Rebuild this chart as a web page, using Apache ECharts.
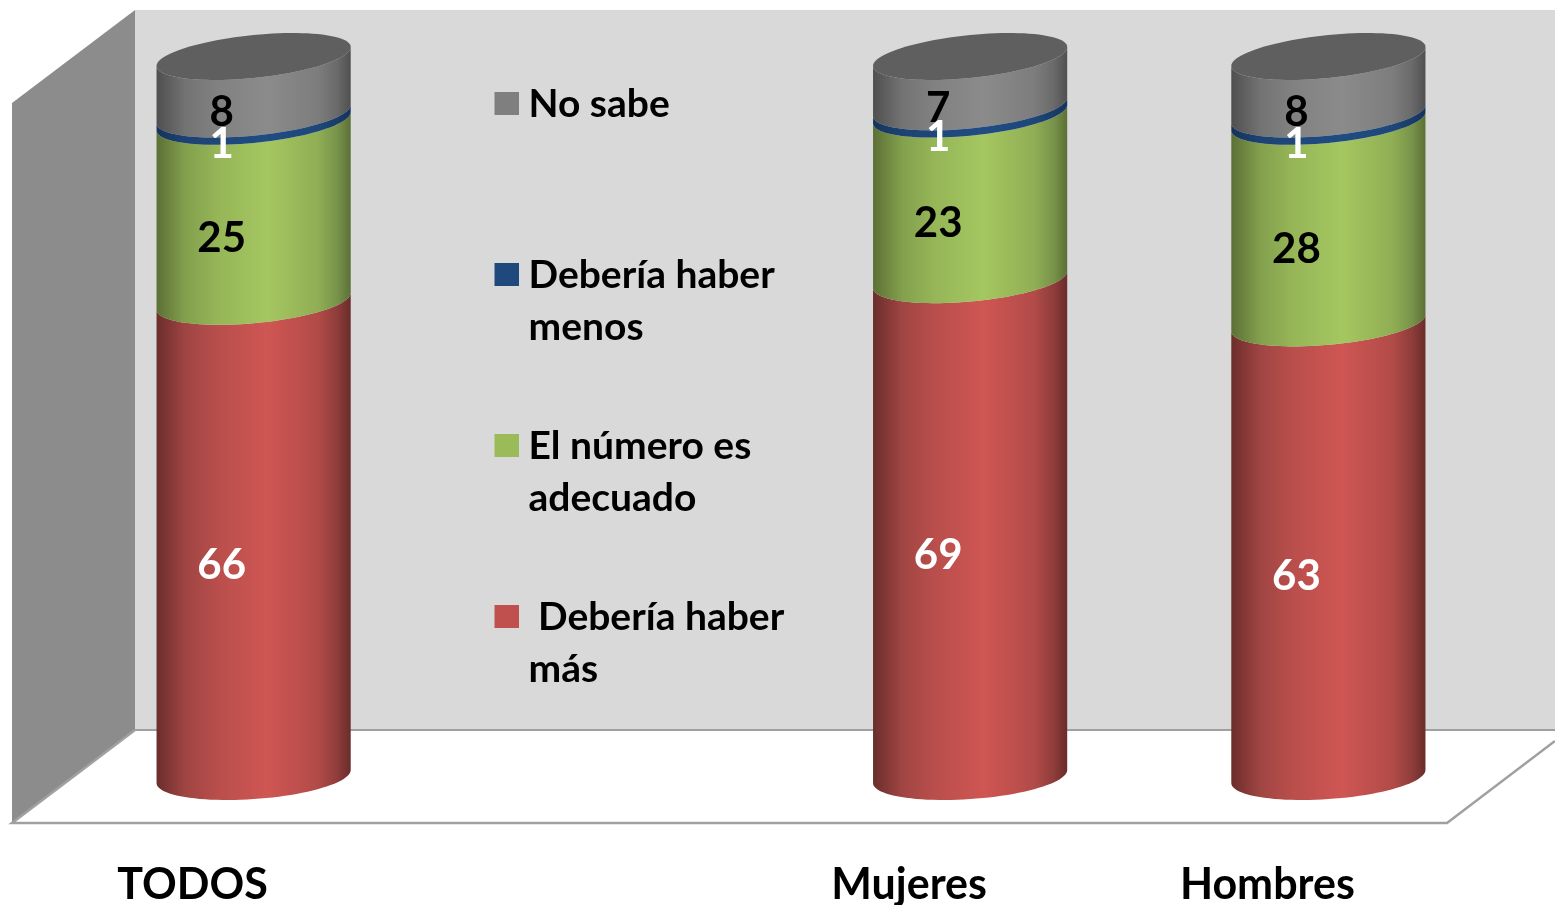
<!DOCTYPE html>
<html>
<head>
<meta charset="utf-8">
<title>Chart</title>
<style>
  html, body { margin: 0; padding: 0; background: #fff; }
  #chart { width: 1555px; height: 905px; }
</style>
<script src="https://cdn.jsdelivr.net/npm/echarts@6/dist/echarts.min.js"></script>
</head>
<body>
<div id="chart"></div>
<script>
// the empty slot keeps the gap between TODOS and Mujeres where the legend sits
const categories = ['TODOS', '', 'Mujeres', 'Hombres'];
const masValues = [66, null, 69, 63];
const adecuadoValues = [25, null, 23, 28];
const menosValues = [1, null, 1, 1];
const noSabeValues = [8, null, 7, 8];

const FONT = 'Lato, "Noto Sans", sans-serif';
const CYL_RATIO = 0.542;   // cylinder width / category band
const ELL_EXTENT = 23.5;   // lowest point of the ellipse below its centre

// legend order is top of stack first. The leading blank line keeps the first
// text line level with the icon, since the legend centres the text block on it
const segments = [
  { name: 'No sabe', legend: ['No sabe', ' '], values: noSabeValues, below: [adecuadoValues, masValues, menosValues], z: 4,
    base: '#7f7f7f', stops: ['#4f4f4f', '#737373', '#818181', '#8b8b8b', '#7d7d7d', '#6a6a6a', '#505050'], label: '#000' },
  { name: 'Debería haber menos', legend: ['Debería haber', 'menos'], values: menosValues, below: [adecuadoValues, masValues], z: 5,
    base: '#1f497d', stops: ['#15345a', '#1d4272', '#1e4779', '#204c82', '#1e4779', '#1a3c68', '#15345a'], label: '#fff' },
  { name: 'El número es adecuado', legend: ['El número es', 'adecuado'], values: adecuadoValues, below: [masValues], z: 3,
    base: '#9bbb59', stops: ['#5c7036', '#83a04d', '#95b557', '#a5c761', '#90ae54', '#78934a', '#5c7036'], label: '#000' },
  { name: ' Debería haber más', legend: [' Debería haber', 'más'], values: masValues, below: [], z: 2,
    base: '#c0504d', stops: ['#6b2d2b', '#a04543', '#b84e4b', '#cf5653', '#b24b48', '#8f3d3b', '#692c2a'], label: '#fff' }
];

function cylinderFill(stops) {
  const offsets = [0, 0.15, 0.31, 0.57, 0.83, 0.93, 1];
  return new echarts.graphic.LinearGradient(0, 0, 1, 0,
    stops.map((color, i) => ({ offset: offsets[i], color })));
}

// the ellipse leans a little more towards the top of the cylinder
function ellipsePoint(cx, cy, a, t, level) {
  const tilt = 6.5 + 3 * level / 100;
  const b = Math.sqrt(ELL_EXTENT * ELL_EXTENT - tilt * tilt);
  return [cx + a * Math.cos(t), cy + b * Math.sin(t) - tilt * Math.cos(t)];
}

// front half of the ellipse, left to right
function frontArc(cx, cy, a, level) {
  const pts = [];
  for (let i = 0; i <= 48; i++) {
    pts.push(ellipsePoint(cx, cy, a, Math.PI - (i / 48) * Math.PI, level));
  }
  return pts;
}

function fullEllipse(cx, cy, a, level) {
  const pts = [];
  for (let i = 0; i < 96; i++) {
    pts.push(ellipsePoint(cx, cy, a, (i / 96) * Math.PI * 2, level));
  }
  return pts;
}

function makeRenderItem(seg) {
  return function (params, api) {
    const cat = api.value(0);
    const from = api.value(1);
    const to = api.value(2);
    const start = api.coord([cat, from]);
    const end = api.coord([cat, to]);
    const a = api.size([1, 0])[0] * CYL_RATIO / 2;
    const cx = start[0];
    const lower = frontArc(cx, start[1], a, from);
    const upper = frontArc(cx, end[1], a, to).reverse();
    const children = [{
      type: 'polygon',
      shape: { points: lower.concat(upper) },
      style: { fill: cylinderFill(seg.stops) }
    }];
    if (to >= 100) {
      children.push({
        type: 'polygon',
        shape: { points: fullEllipse(cx, end[1], a, to) },
        style: { fill: '#5f5f5f' }
      });
    }
    children.push({
      type: 'text',
      z2: 10,
      style: {
        x: cx - 32,
        y: (start[1] + end[1]) / 2 + 27,
        text: String(api.value(3)),
        fill: seg.label,
        font: 'bold 42px ' + FONT,
        align: 'center',
        verticalAlign: 'middle'
      }
    });
    return { type: 'group', children };
  };
}

function segmentData(seg) {
  return seg.values.map((v, i) => {
    if (v == null) return null;
    const base = seg.below.reduce((sum, arr) => sum + arr[i], 0);
    return [i, base, base + v, v];
  }).filter(Boolean);
}

const legendFont = { color: '#000', fontFamily: FONT, fontWeight: 'bold', fontSize: 39, lineHeight: 52 };

const chart = echarts.init(document.getElementById('chart'));
chart.setOption({
  animation: false,
  backgroundColor: '#fff',
  grid: { left: 74.5, top: 56.5, width: 1433, height: 720, outerBoundsMode: 'none' },
  xAxis: {
    type: 'category',
    data: categories,
    axisLine: { show: false },
    axisTick: { show: false },
    axisLabel: {
      interval: 0,
      margin: 87,
      padding: [0, 122, 0, 0],
      color: '#000',
      fontFamily: FONT,
      fontWeight: 'bold',
      fontSize: 43
    }
  },
  yAxis: { type: 'value', min: 0, max: 100, show: false },
  legend: {
    orient: 'vertical',
    left: 494.5,
    top: 24.5,
    padding: 0,
    icon: 'rect',
    itemWidth: 24.5,
    itemHeight: 23,
    itemGap: 13,
    selectedMode: false,
    data: segments.map(s => s.name),
    formatter: name => {
      const lines = segments.find(s => s.name === name).legend;
      return '{blank| }\n{t|' + lines[0] + '}\n{t|' + lines[1] + '}';
    },
    textStyle: {
      ...legendFont,
      padding: [0, 0, 0, 4.5],
      rich: {
        blank: { ...legendFont, lineHeight: 54 },
        t: legendFont
      }
    }
  },
  graphic: [
    { type: 'polygon', z: 0, shape: { points: [[135, 10], [1555, 10], [1555, 730], [135, 730]] }, style: { fill: '#d9d9d9' } },
    { type: 'polygon', z: 0, shape: { points: [[12, 103], [135, 10], [135, 730], [12, 823]] }, style: { fill: '#8c8c8c' } },
    { type: 'polyline', z: 1, shape: { points: [[135, 730], [1555, 730]] }, style: { stroke: '#a0a0a0', lineWidth: 2, fill: null } },
    { type: 'polyline', z: 1, shape: { points: [[135, 730], [12, 823], [1447, 823], [1555, 741]] }, style: { stroke: '#a0a0a0', lineWidth: 2.5, fill: null } }
  ],
  series: segments.map(seg => ({
    type: 'custom',
    name: seg.name,
    z: seg.z,
    itemStyle: { color: seg.base },
    encode: { x: 0, y: [1, 2] },
    data: segmentData(seg),
    renderItem: makeRenderItem(seg)
  }))
});
</script>
</body>
</html>
